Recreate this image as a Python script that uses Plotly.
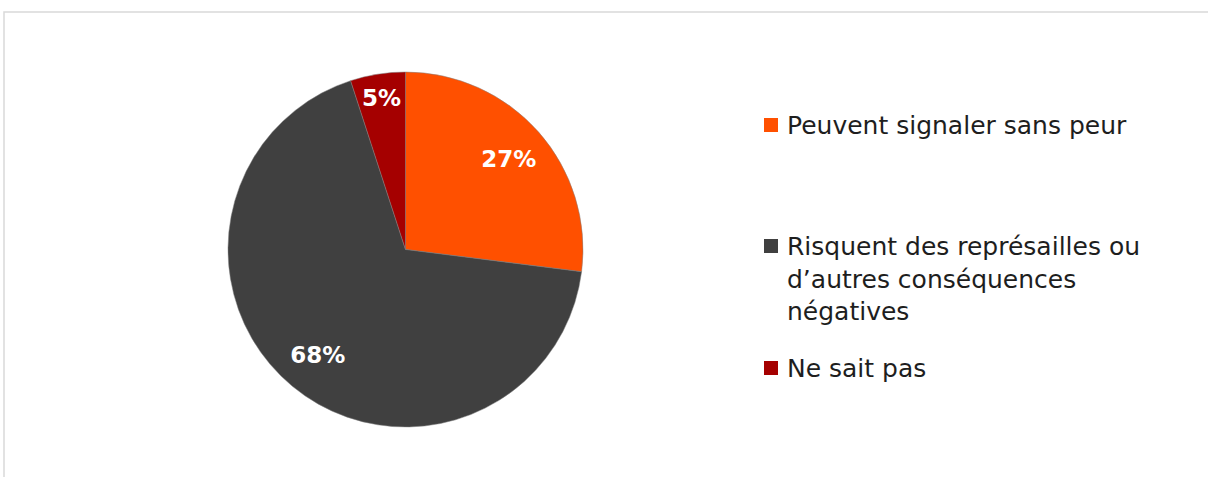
import plotly.graph_objects as go

labels = ["Peuvent signaler sans peur",
          "Risquent des représailles ou<br>d’autres conséquences<br>négatives",
          "Ne sait pas"]
values = [27, 68, 5]
colors = ["#FF5000", "#404040", "#A50000"]
legend_y = [125, 246, 368]  # pixel positions of legend items (first-line centre)

W, H = 1208, 477
cx, cy, r = 405.5, 249.5, 177.5
dom = dict(x=[(cx - r) / W, (cx + r) / W], y=[1 - (cy + r) / H, 1 - (cy - r) / H])

fig = go.Figure()
# main pie (colours)
fig.add_trace(go.Pie(
    labels=labels, values=values, sort=False, direction="clockwise", rotation=0,
    marker=dict(colors=colors, line=dict(width=0.5, color="#7f7f7f")),
    textinfo="none", domain=dom, showlegend=False, hoverinfo="label+percent",
))
# transparent donut overlay used only to place the percentage labels further out
fig.add_trace(go.Pie(
    labels=labels, values=values, sort=False, direction="clockwise", rotation=0, hole=0.55,
    marker=dict(colors=["rgba(0,0,0,0)"] * 3, line=dict(width=0)),
    texttemplate="%{value}%", textposition="inside", insidetextorientation="horizontal",
    textfont=dict(family="DejaVu Sans", size=23, color="white", weight="bold"),
    domain=dom, showlegend=False, hoverinfo="skip",
))

fs = 25
shapes = [dict(type="rect", xref="paper", yref="paper",
               x0=4 / W, x1=1.02, y0=-0.05, y1=1 - 12 / H,
               line=dict(color="#D9D9D9", width=1.5), fillcolor="rgba(0,0,0,0)", layer="below")]
annotations = []
for lab, col, py in zip(labels, colors, legend_y):
    shapes.append(dict(type="rect", xref="paper", yref="paper",
                       x0=764 / W, x1=778 / W, y0=1 - (py + 7) / H, y1=1 - (py - 7) / H,
                       fillcolor=col, line=dict(width=0)))
    annotations.append(dict(xref="paper", yref="paper", x=785 / W, y=1 - (py - 0.66 * fs) / H,
                            xanchor="left", yanchor="top", align="left", showarrow=False,
                            text=lab, font=dict(family="DejaVu Sans", size=fs, color="#1E1E1E")))

fig.update_layout(width=W, height=H, margin=dict(l=0, r=0, t=0, b=0),
                  paper_bgcolor="white", plot_bgcolor="white",
                  shapes=shapes, annotations=annotations)
fig.write_html("out.html", config={"displayModeBar": False},
               post_script="document.body.style.margin='0';")
